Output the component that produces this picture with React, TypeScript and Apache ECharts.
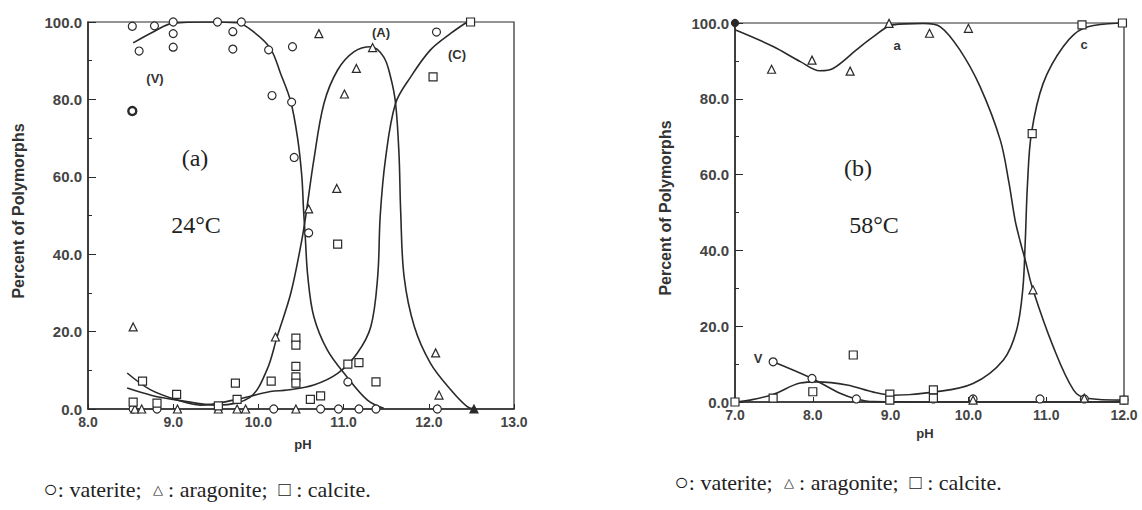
import React, { useEffect, useRef } from "react";
import * as echarts from "echarts";

// ---------- Panel (a): 24°C ----------
const A_X_TICKS = [8, 9, 10, 11, 12, 13];
const A_VATERITE_PTS = [
  [8.52, 98.9], [8.6, 92.5], [8.78, 99], [9.0, 100], [9.0, 97], [9.0, 93.5], [9.52, 100], [9.7, 97.5],
  [9.7, 93], [9.8, 100], [10.12, 92.8], [10.16, 81], [10.4, 93.6], [10.39, 79.3], [10.42, 65], [10.59, 45.5],
  [12.09, 97.4], [11.05, 7], [8.53, 0], [8.81, 0], [10.18, 0], [10.73, 0], [10.94, 0], [11.18, 0], [11.38, 0], [12.1, 0],
];
const A_VATERITE_BOLD = [[8.52, 77]];
const A_ARAGONITE_PTS = [
  [10.71, 97], [11.15, 88], [11.01, 81.4], [11.34, 93.4], [10.92, 57], [10.59, 51.7], [8.53, 21.2], [10.2, 18.6],
  [12.08, 14.5], [12.12, 3.6], [8.55, 0], [8.63, 0], [9.05, 0], [9.53, 0], [9.75, 0], [9.85, 0], [10.44, 0],
];
const A_ARAGONITE_END = [[12.53, 0]];
const A_CALCITE_PTS = [
  [12.49, 100], [12.05, 85.8], [10.93, 42.6], [10.44, 18.3], [10.44, 16.5], [10.44, 11], [10.44, 8.3], [10.44, 6.7],
  [10.15, 7.2], [11.05, 11.6], [11.18, 12], [11.38, 7], [10.61, 2.5], [10.73, 3.4], [8.64, 7.2], [8.53, 1.8],
  [8.81, 1.5], [9.04, 3.8], [9.73, 6.7], [9.75, 2.5], [9.53, 0.8],
];
const A_CURVE_V = [
  [8.53, 94.6], [8.77, 97.5], [9.0, 99.7], [9.4, 100], [9.75, 99.8], [9.94, 97.5], [10.14, 93.2], [10.26, 86.7],
  [10.38, 79.4], [10.46, 70], [10.51, 60], [10.53, 51.4], [10.55, 44.5], [10.58, 34.2], [10.65, 23.9],
  [10.81, 15.2], [11.04, 8.3], [11.28, 2.3], [11.47, 0.2],
];
const A_CURVE_A = [
  [8.46, 5.4], [8.75, 3.5], [9.05, 2.3], [9.52, 1], [9.9, 3], [10.1, 10.1], [10.22, 18.7], [10.38, 29.9],
  [10.51, 43.7], [10.56, 50.5], [10.65, 64.3], [10.77, 79], [10.93, 87.6], [11.12, 92.3], [11.32, 93.6],
  [11.47, 91], [11.55, 85.9], [11.61, 79], [11.65, 66], [11.67, 51], [11.71, 34.2], [11.83, 21.3],
  [12.02, 11.8], [12.26, 4.9], [12.45, 0.6], [12.53, 0],
];
const A_CURVE_C = [
  [8.46, 9.3], [8.73, 5], [9.05, 2.3], [9.32, 1], [9.71, 2.3], [10.14, 4.5], [10.34, 4.9], [10.65, 6.2],
  [10.93, 9.2], [11.16, 14.4], [11.32, 21.3], [11.4, 34.2], [11.43, 50], [11.49, 64.3], [11.61, 79],
  [11.79, 85.9], [12.02, 92.8], [12.26, 97.1], [12.45, 100],
];

// ---------- Panel (b): 58°C ----------
const B_X_TICKS = [7, 8, 9, 10, 11, 12];
const B_VATERITE_PTS = [
  [7.49, 10.6], [7.99, 6.2], [8.56, 0.8], [8.99, 0.8], [9.55, 0.8], [10.06, 0.8], [10.92, 0.8], [11.49, 0.8], [12.0, 0.5],
];
const B_ARAGONITE_PTS = [
  [7.47, 87.8], [7.99, 90.2], [8.48, 87.3], [8.98, 99.9], [9.5, 97.3], [10.0, 98.6], [10.83, 29.6], [10.06, 0.5], [11.49, 1],
];
const B_CALCITE_PTS = [
  [7.0, 0], [7.49, 1], [8.0, 2.7], [8.52, 12.4], [8.99, 2.1], [8.99, 0.5], [9.55, 3.2], [9.55, 1],
  [10.82, 70.8], [11.46, 99.5], [11.98, 100], [12.0, 0.5],
];
const B_FILLED = [[7.0, 100]];
const B_CURVE_A = [
  [7.0, 98.2], [7.49, 93.8], [7.84, 89.8], [8.09, 87.4], [8.26, 88], [8.56, 92.9], [8.78, 96.4], [9.03, 99.5],
  [9.42, 99.9], [9.64, 99], [9.89, 92.9], [10.15, 83.2], [10.41, 69.1], [10.52, 58], [10.6, 48], [10.67, 42],
  [10.73, 37.5], [10.83, 29.6], [11.09, 14.6], [11.35, 3.2], [11.52, 1], [12.0, 0.5],
];
const B_CURVE_C = [
  [7.0, 0], [7.19, 0.5], [7.49, 2], [7.84, 5], [8.05, 5.3], [8.44, 4.5], [8.78, 2.6], [9.04, 1.8], [9.55, 2.6],
  [10.06, 4.9], [10.45, 11.1], [10.62, 19], [10.7, 30], [10.73, 42], [10.76, 57.7], [10.81, 70.9], [10.96, 84],
  [11.22, 93.8], [11.48, 98.6], [11.99, 100],
];
const B_CURVE_V = [[7.49, 10.6], [7.99, 6.2], [8.35, 2.3], [8.56, 0.8], [8.78, 0.1], [9.5, 0], [12.0, 0]];

const Y_TICKS = [0, 20, 40, 60, 80, 100];

const INK = "#2a2a2a";
const SANS = "'Liberation Sans', Arial, sans-serif";
const SERIF = "'Liberation Serif', 'Times New Roman', serif";

function xAxis(gridIndex: number, ticks: number[]) {
  return {
    type: "value",
    gridIndex,
    min: ticks[0],
    max: ticks[ticks.length - 1],
    interval: 1,
    axisLine: { show: true, onZero: false, lineStyle: { color: INK, width: 1.5 } },
    axisTick: { show: true, inside: true, length: 5, lineStyle: { color: INK } },
    axisLabel: {
      color: "#444", fontFamily: SANS, fontWeight: "bold", fontSize: 14, margin: 6,
      formatter: (v: number) => v.toFixed(1),
    },
    splitLine: { show: false },
  };
}
function yAxis(gridIndex: number) {
  return {
    type: "value",
    gridIndex,
    min: Y_TICKS[0],
    max: Y_TICKS[Y_TICKS.length - 1],
    interval: 20,
    axisLine: { show: true, onZero: false, lineStyle: { color: INK, width: 1.5 } },
    axisTick: { show: true, inside: true, length: 8, lineStyle: { color: INK } },
    minorTick: { show: true, splitNumber: 2, length: 4, lineStyle: { color: INK } },
    axisLabel: {
      color: "#444", fontFamily: SANS, fontWeight: "bold", fontSize: 15, margin: 6,
      formatter: (v: number) => v.toFixed(1),
    },
    splitLine: { show: false },
  };
}
function curve(data: number[][], g: number) {
  return {
    type: "line", xAxisIndex: g, yAxisIndex: g, data, smooth: 0.35, symbol: "none",
    lineStyle: { color: INK, width: 1.6 }, silent: true, z: 2,
  };
}
function pts(data: number[][], g: number, symbol: string, size = 8, fill = "#fff", bw = 1.2) {
  return {
    type: "scatter", xAxisIndex: g, yAxisIndex: g, data, symbol, symbolSize: size,
    itemStyle: { color: fill, borderColor: INK, borderWidth: bw, opacity: 1 }, silent: true, z: 3,
  };
}

const CAPTION = "{c|○}{p|: vaterite;  }{t|△}{p| : aragonite;  }{s|□}{p| : calcite.}";
const CAPTION_RICH = {
  p: { fontFamily: SERIF, fontSize: 22, fill: "#222" },
  c: { fontFamily: SERIF, fontSize: 24, fill: "#222" },
  t: { fontFamily: SANS, fontSize: 13, fill: "#222" },
  s: { fontFamily: SERIF, fontSize: 20, fill: "#222" },
};

export default function App() {
  const ref = useRef<HTMLDivElement>(null);
  useEffect(() => {
    if (!ref.current) return;
    const chart = echarts.init(ref.current, null, { renderer: "svg" });
    const text = (x: number, y: number, t: string, size: number, family: string, weight = "normal", extra: any = {}) => ({
      type: "text", x, y, silent: true,
      style: {
        text: t, fontSize: size, fontFamily: family, fontWeight: weight, fill: "#222",
        textAlign: "center", textVerticalAlign: "middle", ...extra,
      },
    });
    chart.setOption({
      animation: false,
      backgroundColor: "#fff",
      grid: [
        { left: 88, top: 22, width: 426, height: 387, show: true, borderColor: INK, borderWidth: 1.2, backgroundColor: "transparent" },
        { left: 735, top: 23, width: 389, height: 379, show: true, borderColor: INK, borderWidth: 1.2, backgroundColor: "transparent" },
      ],
      xAxis: [xAxis(0, A_X_TICKS), xAxis(1, B_X_TICKS)],
      yAxis: [yAxis(0), yAxis(1)],
      series: [
        curve(A_CURVE_V, 0),
        curve(A_CURVE_A, 0),
        curve(A_CURVE_C, 0),
        pts(A_VATERITE_PTS, 0, "circle", 8),
        pts(A_VATERITE_BOLD, 0, "circle", 8, "#fff", 2.4),
        pts(A_ARAGONITE_PTS, 0, "triangle", 8),
        pts(A_ARAGONITE_END, 0, "triangle", 8, INK),
        pts(A_CALCITE_PTS, 0, "rect", 8),
        curve(B_CURVE_A, 1),
        curve(B_CURVE_C, 1),
        curve(B_CURVE_V, 1),
        pts(B_VATERITE_PTS, 1, "circle", 8),
        pts(B_ARAGONITE_PTS, 1, "triangle", 8),
        pts(B_CALCITE_PTS, 1, "rect", 8),
        pts(B_FILLED, 1, "circle", 7, INK),
      ],
      graphic: [
        { ...text(18, 211, "Percent of Polymorphs", 16, SANS, "bold", { fill: "#333" }), rotation: Math.PI / 2 },
        { ...text(665, 208, "Percent of Polymorphs", 16, SANS, "bold", { fill: "#333" }), rotation: Math.PI / 2 },
        text(303, 444, "pH", 13, SANS, "bold", { fill: "#333" }),
        text(925, 433, "pH", 13, SANS, "bold", { fill: "#333" }),
        text(155, 78, "(V)", 13, SANS, "bold", { fill: "#333" }),
        text(381, 32, "(A)", 13, SANS, "bold", { fill: "#333" }),
        text(457, 54, "(C)", 13, SANS, "bold", { fill: "#333" }),
        text(897, 45, "a", 13, SANS, "bold", { fill: "#333" }),
        text(1084, 44, "c", 13, SANS, "bold", { fill: "#333" }),
        text(758, 358, "V", 13, SANS, "bold", { fill: "#333" }),
        text(195, 158, "(a)", 24, SERIF),
        text(196, 225, "24°C", 24, SERIF),
        text(858, 168, "(b)", 24, SERIF),
        text(874, 225, "58°C", 24, SERIF),
        text(207, 489, CAPTION, 22, SERIF, "normal", { rich: CAPTION_RICH }),
        text(838, 482, CAPTION, 22, SERIF, "normal", { rich: CAPTION_RICH }),
      ],
    });
    return () => chart.dispose();
  }, []);
  return (
    <div
      ref={ref}
      style={{ position: "absolute", left: 0, top: 0, width: 1142, height: 510, background: "#fff" }}
    />
  );
}
